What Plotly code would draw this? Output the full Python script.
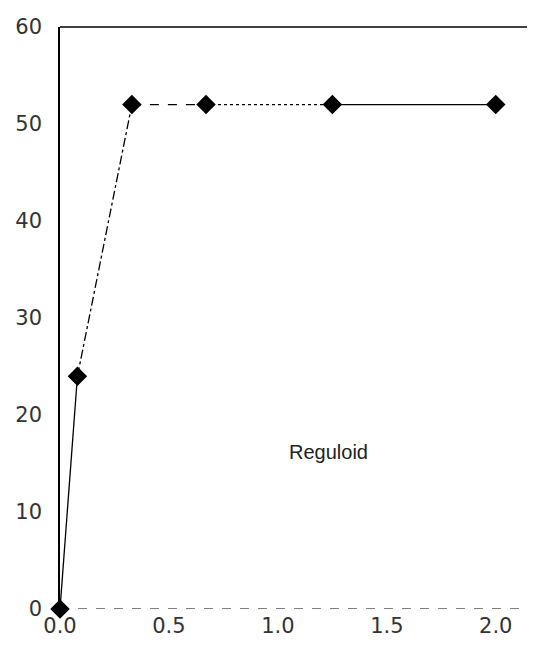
import plotly.graph_objects as go

x_vals = [0.0, 0.08, 0.33, 0.67, 1.25, 2.0]
y_vals = [0, 24, 52, 52, 52, 52]
segment_dashes = ["solid", "dashdot", "dash", "dot", "solid"]
x_ticks = [0.0, 0.5, 1.0, 1.5, 2.0]
x_tick_labels = ["0.0", "0.5", "1.0", "1.5", "2.0"]
y_ticks = [0, 10, 20, 30, 40, 50, 60]
label_text = "Reguloid"
label_pos = (1.23, 16.2)

fig = go.Figure()
for i, d in enumerate(segment_dashes):
    fig.add_trace(go.Scatter(
        x=x_vals[i:i + 2], y=y_vals[i:i + 2], mode="lines",
        line=dict(color="black", width=1.3, dash=d),
        showlegend=False, hoverinfo="skip", cliponaxis=False))
fig.add_trace(go.Scatter(
    x=x_vals, y=y_vals, mode="markers",
    marker=dict(symbol="diamond", size=15, color="black",
                line=dict(width=0)),
    showlegend=False, cliponaxis=False))

fig.add_shape(type="line", xref="paper", yref="y", x0=0, x1=1, y0=0, y1=0,
              line=dict(color="black", width=1.2, dash="dash"), layer="below")
fig.add_shape(type="line", xref="paper", yref="paper", x0=0, x1=1, y0=1, y1=1,
              line=dict(color="black", width=1.5))

fig.add_annotation(x=label_pos[0], y=label_pos[1], text=label_text, showarrow=False,
                   font=dict(family="Liberation Sans, Arial", size=20, color="#222"))

fig.update_layout(
    width=527, height=640,
    margin=dict(l=52, r=0, t=19, b=39),
    paper_bgcolor="white", plot_bgcolor="white",
    font=dict(family="DejaVu Sans, Liberation Sans", size=21, color="#333"),
    xaxis=dict(range=[0, 2.18], tickvals=x_ticks, ticktext=x_tick_labels,
               showgrid=False, zeroline=False, showline=False, ticks="",
               ticklabelstandoff=2, tickfont=dict(size=21, color="#333")),
    yaxis=dict(range=[0, 60], tickvals=y_ticks, showgrid=False, zeroline=False,
               showline=True, linecolor="black", linewidth=1.5, ticks="",
               ticklabelstandoff=12, tickfont=dict(size=21, color="#333")),
)
fig.write_html("out.html")
